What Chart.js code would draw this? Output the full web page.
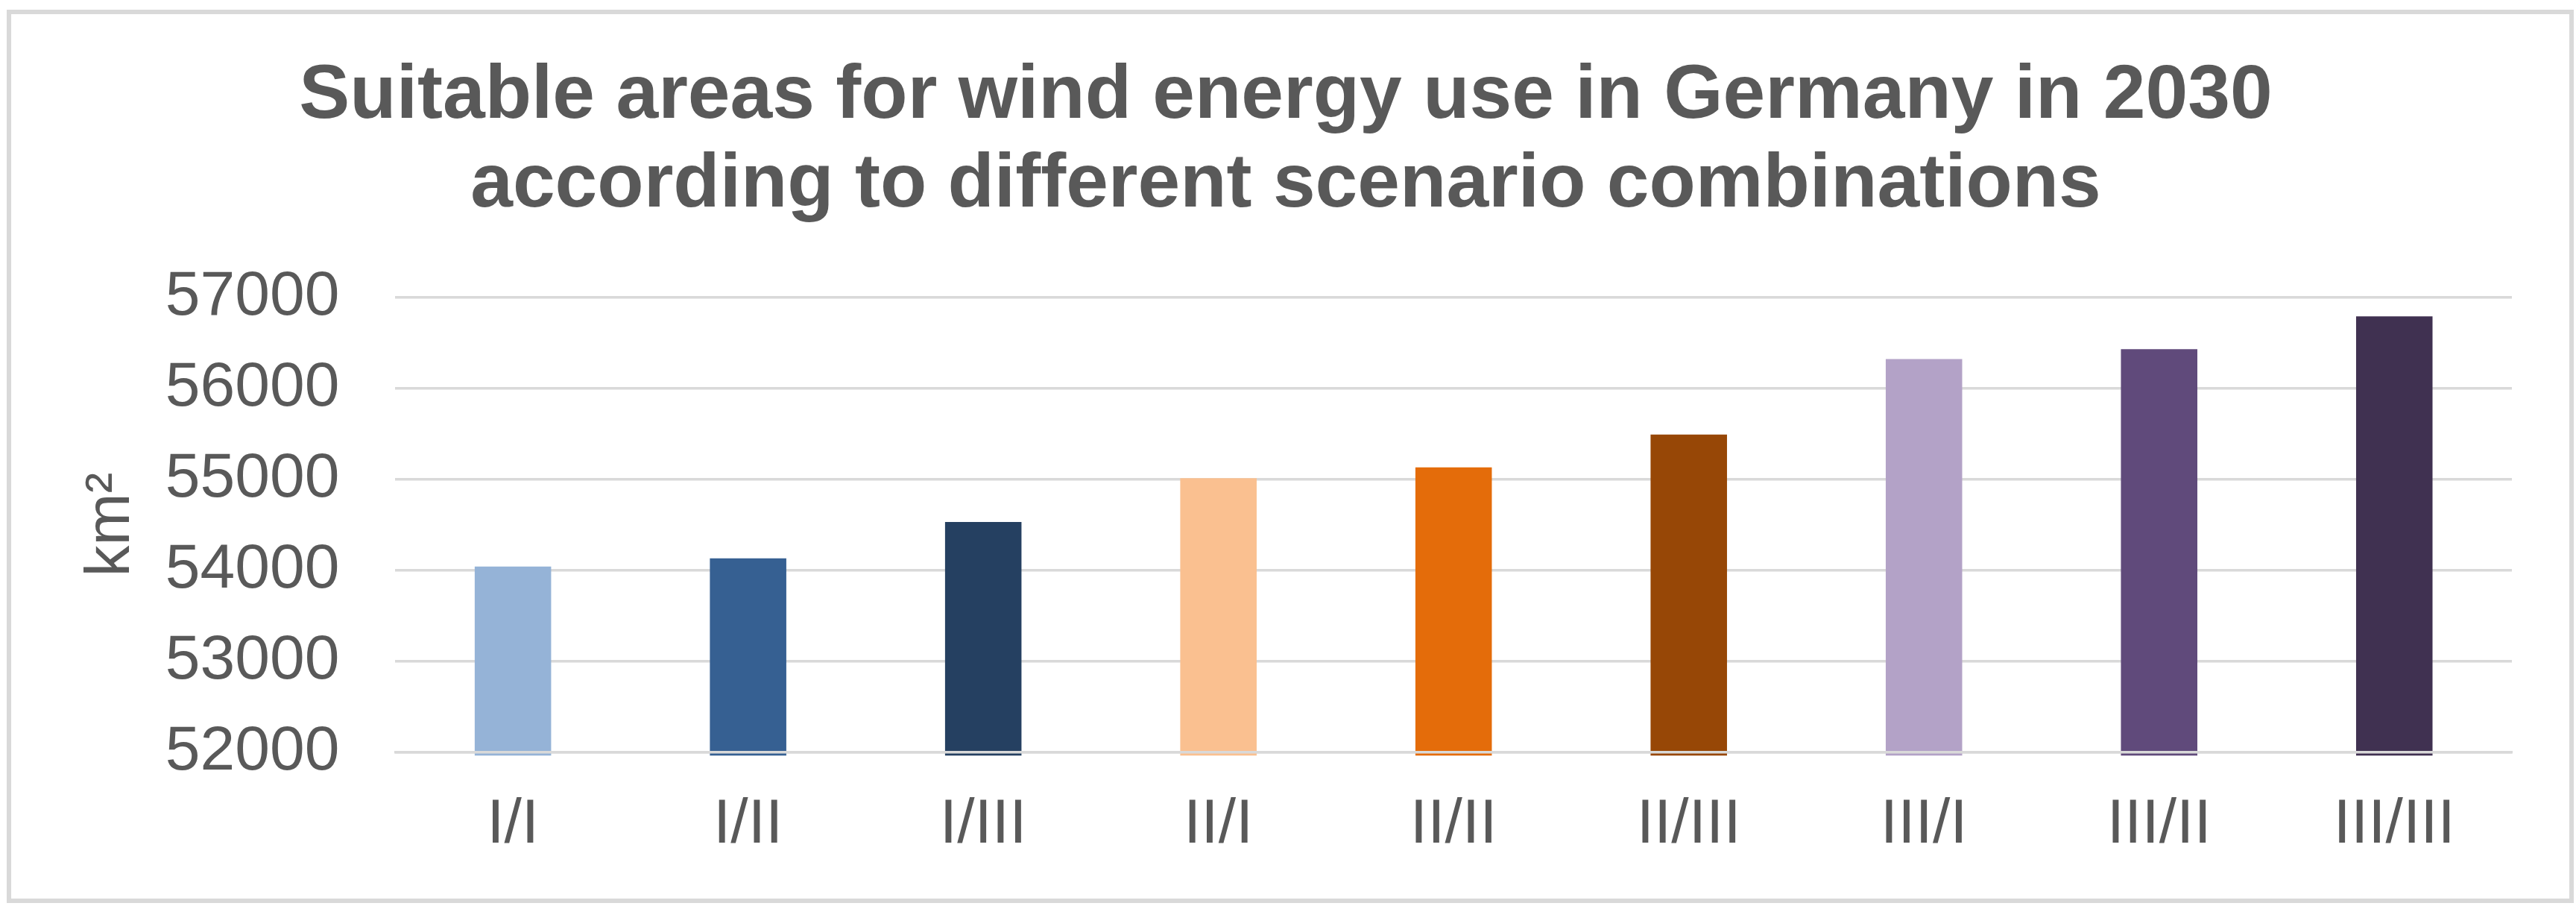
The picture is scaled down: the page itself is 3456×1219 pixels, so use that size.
<!DOCTYPE html>
<html>
<head>
<meta charset="utf-8">
<title>Suitable areas for wind energy use in Germany in 2030</title>
<script src="https://cdn.jsdelivr.net/npm/chart.js@4.4.1/dist/chart.umd.min.js"></script>
<style>
    html, body { margin: 0; padding: 0; background: #ffffff; }
    #frame {
        position: absolute;
        left: 9px;
        top: 13px;
        width: 3444px;
        height: 1198px;
        border: 6px solid #d9d9d9;
        box-sizing: border-box;
        background: #ffffff;
    }
    #chart { display: block; }
</style>
</head>
<body>
<div id="frame">
    <canvas id="chart" width="3432" height="1186"></canvas>
</div>
<script>
// scenario combinations (x categories)
const categories = ['I/I', 'I/II', 'I/III', 'II/I', 'II/II', 'II/III', 'III/I', 'III/II', 'III/III'];

// suitable area in km²
const areaValues = [54040, 54130, 54530, 55010, 55130, 55490, 56320, 56430, 56790];

// y axis ticks
const yTicks = [52000, 53000, 54000, 55000, 56000, 57000];

const barColors = [
    '#95b3d7', '#366092', '#254061',
    '#fac090', '#e46c0a', '#974706',
    '#b3a2c7', '#604a7b', '#403151'
];

const titleLines = [
    'Suitable areas for wind energy use in Germany in 2030',
    'according to different scenario combinations'
];

const textGrey = '#595959';
const gridGrey = '#d9d9d9';
const fontFamily = '"Liberation Sans", Arial, Helvetica, sans-serif';

const ctx = document.getElementById('chart').getContext('2d');

new Chart(ctx, {
    type: 'bar',
    data: {
        labels: categories,
        datasets: [{
            label: 'km²',
            data: areaValues,
            backgroundColor: barColors,
            borderWidth: 0,
            categoryPercentage: 1,
            barPercentage: 0.325,
            // bars start a hair below the axis, like the original
            base: yTicks[0] - 40,
            clip: false
        }]
    },
    options: {
        responsive: false,
        devicePixelRatio: 1,
        animation: false,
        layout: {
            // left/right kept nearly equal so the title stays centred on the frame
            padding: { left: 65, right: 77, top: 0, bottom: 0 }
        },
        plugins: {
            legend: { display: false },
            tooltip: { enabled: false },
            title: {
                display: true,
                text: titleLines,
                color: textGrey,
                font: { family: fontFamily, size: 102, weight: 'bold', lineHeight: 1.17 },
                padding: { top: 51, bottom: 90 }
            }
        },
        scales: {
            x: {
                grid: { display: false, drawTicks: false },
                border: { display: true, color: gridGrey, width: 3.5, z: 1 },
                ticks: {
                    color: textGrey,
                    padding: 50,
                    maxRotation: 0,
                    autoSkip: false,
                    font: { family: fontFamily, size: 84, lineHeight: 1.15 }
                }
            },
            y: {
                min: yTicks[0],
                max: yTicks[yTicks.length - 1],
                afterBuildTicks: (scale) => {
                    scale.ticks = yTicks.map(v => ({ value: v }));
                },
                grid: { color: gridGrey, lineWidth: 3.5, drawTicks: false },
                border: { display: false },
                ticks: {
                    color: textGrey,
                    padding: 75,
                    callback: (v) => String(v),
                    font: { family: fontFamily, size: 84, lineHeight: 1.2 }
                },
                title: {
                    display: true,
                    text: 'km²',
                    color: textGrey,
                    // tick padding is counted twice in the axis width, so the gap is taken back here
                    padding: { top: 19, bottom: -53 },
                    font: { family: fontFamily, size: 84, lineHeight: 1.2 }
                }
            }
        }
    }
});
</script>
</body>
</html>
